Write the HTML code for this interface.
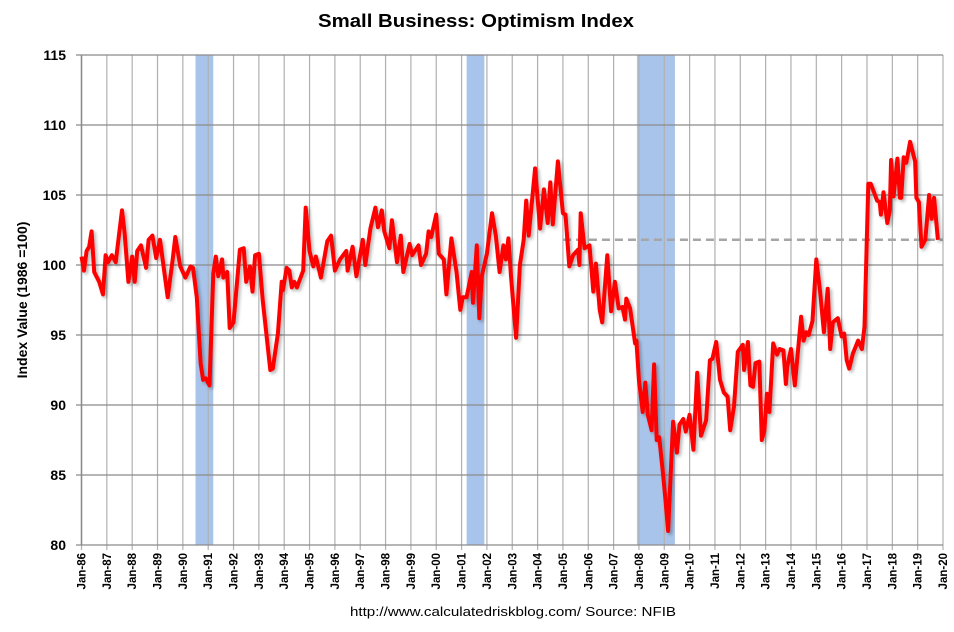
<!DOCTYPE html>
<html><head><meta charset="utf-8"><style>
body{margin:0;background:#fff;width:954px;height:632px;overflow:hidden}
svg{display:block}
text{font-family:"Liberation Sans",sans-serif;}
</style></head><body>
<svg id="chart" width="954" height="632" xmlns="http://www.w3.org/2000/svg">
<defs><filter id="sh" x="-5%" y="-5%" width="110%" height="110%"><feDropShadow dx="2" dy="2" stdDeviation="1.5" flood-color="#000" flood-opacity="0.3"/></filter></defs>
<text x="476" y="27" text-anchor="middle" font-size="18" font-weight="bold" textLength="316" lengthAdjust="spacingAndGlyphs">Small Business: Optimism Index</text>
<g id="recess"></g>
<g id="grid"></g>
<g id="ylab"></g>
<g id="xlab"></g>
<line id="ref" stroke="#a6a6a6" stroke-width="2.5" stroke-dasharray="8,5"/>
<path id="line" fill="none" stroke="#ff0000" stroke-width="4" stroke-linejoin="round" filter="url(#sh)"/>
<text transform="translate(27,300) rotate(-90)" text-anchor="middle" font-size="14" font-weight="bold">Index Value (1986 =100)</text>
<text x="513" y="616" text-anchor="middle" font-size="13" textLength="326" lengthAdjust="spacingAndGlyphs">http://www.calculatedriskblog.com/  Source: NFIB</text>
</svg>
<script>
const dates=[1986.0,1986.1,1986.2,1986.3,1986.4,1986.5,1986.7,1986.85,1986.95,1987.05,1987.2,1987.35,1987.6,1987.7,1987.85,1988.0,1988.1,1988.2,1988.35,1988.55,1988.65,1988.8,1988.95,1989.1,1989.4,1989.6,1989.7,1989.9,1990.1,1990.3,1990.4,1990.55,1990.7,1990.8,1990.9,1991.05,1991.2,1991.3,1991.4,1991.55,1991.6,1991.75,1991.85,1992.0,1992.25,1992.4,1992.5,1992.65,1992.75,1992.85,1993.0,1993.15,1993.45,1993.55,1993.75,1993.9,1993.95,1994.1,1994.2,1994.3,1994.4,1994.5,1994.75,1994.85,1995.0,1995.15,1995.25,1995.45,1995.7,1995.85,1996.0,1996.2,1996.45,1996.5,1996.7,1996.85,1997.1,1997.2,1997.4,1997.6,1997.7,1997.85,1997.95,1998.15,1998.25,1998.45,1998.6,1998.7,1998.95,1999.05,1999.3,1999.4,1999.6,1999.7,1999.8,2000.0,2000.1,2000.3,2000.4,2000.6,2000.8,2000.95,2001.05,2001.2,2001.4,2001.45,2001.6,2001.7,2001.8,2002.0,2002.2,2002.35,2002.5,2002.65,2002.75,2002.85,2002.95,2003.15,2003.3,2003.45,2003.55,2003.65,2003.9,2004.1,2004.25,2004.4,2004.5,2004.6,2004.8,2005.0,2005.1,2005.25,2005.4,2005.6,2005.65,2005.7,2005.85,2006.05,2006.2,2006.3,2006.45,2006.55,2006.75,2006.9,2007.05,2007.2,2007.35,2007.45,2007.5,2007.65,2007.85,2007.9,2008.0,2008.15,2008.25,2008.35,2008.5,2008.6,2008.7,2008.8,2008.95,2009.05,2009.15,2009.35,2009.5,2009.6,2009.75,2009.85,2010.0,2010.15,2010.3,2010.45,2010.65,2010.8,2010.9,2011.05,2011.2,2011.35,2011.5,2011.6,2011.75,2011.9,2012.1,2012.15,2012.3,2012.4,2012.5,2012.6,2012.75,2012.85,2012.95,2013.05,2013.15,2013.3,2013.45,2013.55,2013.7,2013.8,2013.85,2014.0,2014.15,2014.4,2014.5,2014.6,2014.7,2014.85,2015.0,2015.15,2015.3,2015.45,2015.55,2015.65,2015.85,2016.0,2016.1,2016.2,2016.3,2016.45,2016.65,2016.8,2016.9,2017.05,2017.15,2017.4,2017.5,2017.55,2017.65,2017.8,2017.9,2017.95,2018.05,2018.2,2018.3,2018.35,2018.45,2018.55,2018.7,2018.9,2018.95,2019.05,2019.15,2019.3,2019.45,2019.55,2019.65,2019.8];
const values=[100.6,99.6,101,101.3,102.4,99.5,98.8,97.9,100.7,100.2,100.7,100.2,103.9,102.3,98.8,100.6,98.8,101,101.4,99.8,101.8,102.1,100.5,101.8,97.7,100.4,102,99.9,99.1,99.9,99.8,97.7,93,91.8,91.9,91.4,99.4,100.6,99.2,100.4,99.1,99.5,95.5,95.9,101.1,101.2,98.8,99.9,98.1,100.7,100.8,97.5,92.5,92.6,95.1,98.8,98.2,99.8,99.6,98.4,98.8,98.4,99.6,104.1,101,99.9,100.6,99.1,101.7,102.1,99.6,100.4,101,99.6,101.3,99.2,101.8,100,102.6,104.1,102.7,103.9,102.4,101.2,103.2,100.2,102.1,99.5,101.5,100.7,101.4,100,100.8,102.4,102,103.6,100.8,100.4,97.9,101.9,99.5,96.8,97.7,97.7,99.5,97.3,101.4,96.2,99.2,100.8,103.7,102.1,99.5,101.4,100.4,101.9,99.2,94.8,100,101.8,104.6,102.1,106.9,102.6,105.4,103,105.9,102.9,107.4,103.7,103.6,99.9,100.7,101.1,100,103.7,101.2,101.4,98.1,100.1,96.8,95.9,100.7,96.7,98.8,96.9,97,96.1,97.6,96.9,94.4,94.6,91.8,89.5,91.6,89.3,88.2,92.9,87.5,87.7,85.1,83.2,81,88.8,86.6,88.6,89,88.1,89.3,86.8,92.3,87.8,88.9,93.2,93.3,94.5,91.8,90.9,90.6,88.2,89.9,93.8,94.3,92.5,94.5,91.4,91.3,93,93.1,87.5,88.2,90.8,89.5,94.4,93.6,94,93.9,91.5,92.7,94,91.4,96.3,94.6,95.2,95,96,100.4,98.1,95.2,98.3,94,95.9,96.2,94.9,95.1,93.2,92.6,93.7,94.6,94,95.6,105.8,105.8,104.6,104.5,103.6,105.2,103,103.9,107.5,104.9,107.6,104.8,104.8,107.7,107.3,108.8,107.4,104.8,104.5,101.3,101.8,105,103.3,104.8,101.8];
const yTicks=[80,85,90,95,100,105,110,115];
const xYears=[1986,1987,1988,1989,1990,1991,1992,1993,1994,1995,1996,1997,1998,1999,2000,2001,2002,2003,2004,2005,2006,2007,2008,2009,2010,2011,2012,2013,2014,2015,2016,2017,2018,2019,2020];
const recessions=[[1990.5,1991.2],[2001.2,2001.9],[2007.92,2009.42]];
const refStart=[2005.0], refValue=[101.8];
const NS='http://www.w3.org/2000/svg';
const X=t=>81.5+(t-1986)*(943-81.5)/34;
const Y=v=>545-(v-80)*14;
function mk(tag,attrs,parent){const e=document.createElementNS(NS,tag);for(const k in attrs)e.setAttribute(k,attrs[k]);parent.appendChild(e);return e;}
const rg=document.getElementById('recess');
recessions.forEach(r=>{const e=mk('rect',{x:X(r[0]),y:55,width:X(r[1])-X(r[0]),height:490,fill:'#a9c4ea'},rg);

});
const g=document.getElementById('grid');
xYears.forEach(y=>{const e=mk('line',{x1:X(y),x2:X(y),y1:55,y2:550,stroke:'#b0b0b0','stroke-width':1.2},g);

});
yTicks.forEach(v=>{const e=mk('line',{x1:76,x2:943,y1:Y(v),y2:Y(v),stroke:'#8a8a8a','stroke-width':1.3},g);

});
const ax=mk('line',{x1:81.5,x2:81.5,y1:55,y2:545,stroke:'#8a8a8a','stroke-width':1.5},g);


const yl=document.getElementById('ylab');
yTicks.forEach(v=>{const t=mk('text',{x:66,y:Y(v)+5,'text-anchor':'end','font-size':14,'font-weight':'bold'},yl);t.textContent=v;

});
const xl=document.getElementById('xlab');
xYears.forEach(y=>{const t=mk('text',{transform:`translate(${X(y)+4},553) rotate(-90)`,'text-anchor':'end','font-size':11.5,'font-weight':'bold'},xl);t.textContent='Jan-'+String(y).slice(2);

});
const ref=document.getElementById('ref');
ref.setAttribute('x1',X(refStart[0]));ref.setAttribute('x2',943);ref.setAttribute('y1',Y(refValue[0]));ref.setAttribute('y2',Y(refValue[0]));
document.getElementById('line').setAttribute('d',dates.map((d,i)=>(i?'L':'M')+X(d).toFixed(1)+','+Y(values[i]).toFixed(1)).join(''));
</script>
</body></html>
